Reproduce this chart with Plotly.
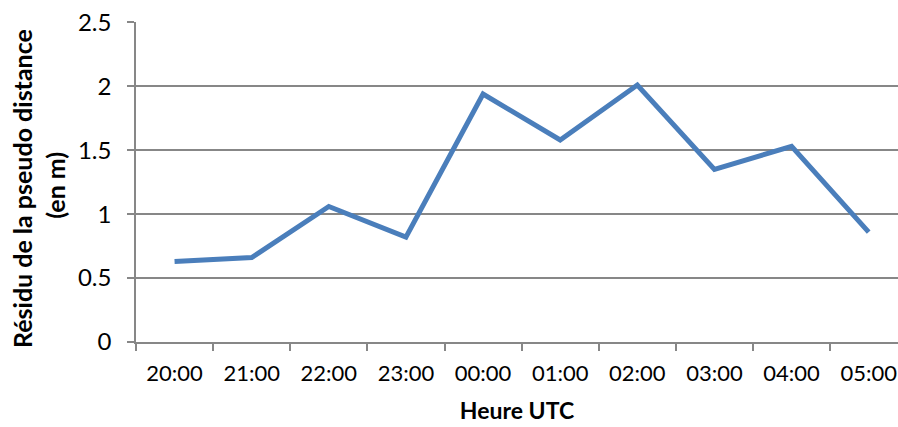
'''
Résidu de la pseudo distance - line chart
'''
import plotly.graph_objects as go

# ---------------------------- data ----------------------------
heures = ["20:00", "21:00", "22:00", "23:00", "00:00",
          "01:00", "02:00", "03:00", "04:00", "05:00"]
residu = [0.63, 0.66, 1.06, 0.82, 1.94, 1.58, 2.01, 1.35, 1.53, 0.86]
y_ticks = [0, 0.5, 1, 1.5, 2, 2.5]
y_labels = ["0", "0.5", "1", "1.5", "2", "2.5"]
y_title = ["Résidu de la pseudo distance", "(en m)"]

FONT = "Lato"
GRID = "#878787"

fig = go.Figure(
    go.Scatter(
        x=heures,
        y=residu,
        mode="lines",
        line=dict(color="#4A7EBB", width=5),
    )
)

fig.update_layout(
    width=898,
    height=427,
    margin=dict(l=136, r=0, t=22, b=85),
    plot_bgcolor="white",
    paper_bgcolor="white",
    showlegend=False,
    font=dict(family=FONT, size=23, color="black"),
)

fig.update_xaxes(
    type="category",
    range=[-0.5, 9.38],
    tickson="boundaries",
    ticks="outside",
    ticklen=7,
    tickwidth=1.5,
    tickcolor=GRID,
    tickfont=dict(size=22),
    showline=True,
    linecolor=GRID,
    linewidth=1.5,
    showgrid=False,
    ticklabelstandoff=11,
    ticklabeloverflow="allow",
    title=dict(text="<b>Heure UTC</b>", font=dict(size=23), standoff=18),
)

fig.update_yaxes(
    range=[0, 2.503],
    tickvals=y_ticks,
    ticktext=y_labels,
    tickfont=dict(size=24),
    ticks="outside",
    ticklen=7,
    tickwidth=1.5,
    tickcolor=GRID,
    showline=True,
    linecolor=GRID,
    linewidth=1.5,
    showgrid=True,
    gridcolor=GRID,
    gridwidth=1.5,
    zeroline=False,
    ticklabelstandoff=11,
    ticklabeloverflow="allow",
)

# y title, two lines placed separately
for txt, xpx, yp in zip(y_title, [22, 55], [0.478, 0.488]):
    fig.add_annotation(
        text=f"<b>{txt}</b>",
        textangle=-90,
        xref="paper", yref="paper",
        x=(xpx - 136) / 762, y=yp,
        xanchor="center", yanchor="middle",
        showarrow=False,
        font=dict(size=25),
    )

# drop the default page margin so the figure fills the window exactly
fig.write_html(
    "out.html",
    config={"displayModeBar": False},
    post_script="document.body.style.margin='0';"
                "document.documentElement.style.overflow='hidden';",
)
